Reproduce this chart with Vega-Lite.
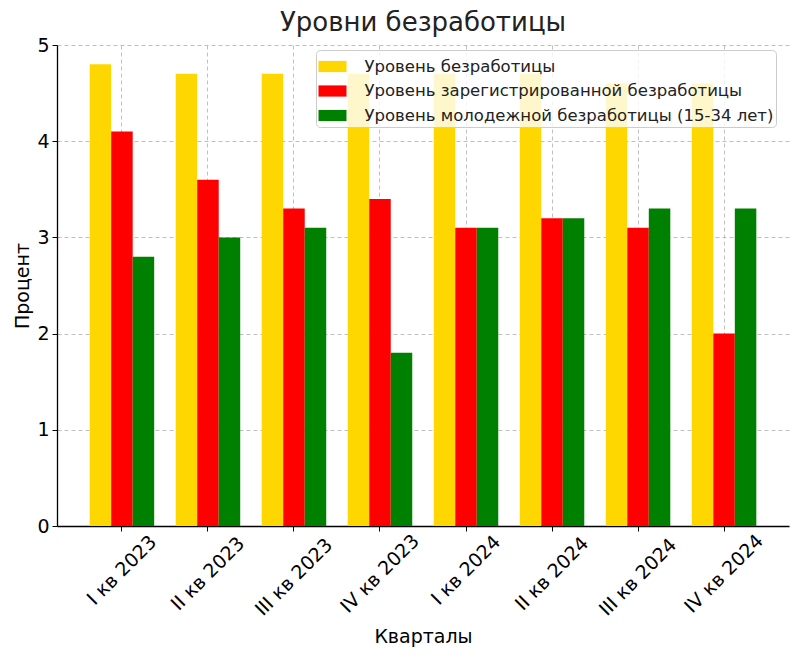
{
  "$schema": "https://vega.github.io/schema/vega-lite/v6.json",
  "autosize": {"type": "none"},
  "width": 732,
  "height": 481,
  "padding": {"left": 57, "top": 45, "right": 11, "bottom": 132},
  "background": "white",
  "config": {
    "font": "DejaVu Sans",
    "view": {"stroke": null},
    "axis": {
      "labelFont": "DejaVu Sans",
      "titleFont": "DejaVu Sans",
      "labelColor": "#000000",
      "titleColor": "#000000",
      "labelFontSize": 19,
      "titleFontSize": 19,
      "titleFontWeight": "normal",
      "domainColor": "#000000",
      "domainWidth": 1.3,
      "tickColor": "#000000",
      "tickSize": 5,
      "tickWidth": 1,
      "gridColor": "#b0b0b0",
      "gridDash": [4, 3],
      "gridWidth": 0.8,
      "zindex": 1
    }
  },
  "title": {
    "text": "Уровни безработицы",
    "fontSize": 26,
    "fontWeight": "normal",
    "font": "DejaVu Sans",
    "color": "#222222",
    "anchor": "middle",
    "offset": 0
  },
  "data": {
    "values": [
      {"q": "I кв 2023", "s": "Уровень безработицы", "v": 4.8},
      {"q": "I кв 2023", "s": "Уровень зарегистрированной безработицы", "v": 4.1},
      {"q": "I кв 2023", "s": "Уровень молодежной безработицы (15-34 лет)", "v": 2.8},
      {"q": "II кв 2023", "s": "Уровень безработицы", "v": 4.7},
      {"q": "II кв 2023", "s": "Уровень зарегистрированной безработицы", "v": 3.6},
      {"q": "II кв 2023", "s": "Уровень молодежной безработицы (15-34 лет)", "v": 3.0},
      {"q": "III кв 2023", "s": "Уровень безработицы", "v": 4.7},
      {"q": "III кв 2023", "s": "Уровень зарегистрированной безработицы", "v": 3.3},
      {"q": "III кв 2023", "s": "Уровень молодежной безработицы (15-34 лет)", "v": 3.1},
      {"q": "IV кв 2023", "s": "Уровень безработицы", "v": 4.7},
      {"q": "IV кв 2023", "s": "Уровень зарегистрированной безработицы", "v": 3.4},
      {"q": "IV кв 2023", "s": "Уровень молодежной безработицы (15-34 лет)", "v": 1.8},
      {"q": "I кв 2024", "s": "Уровень безработицы", "v": 4.7},
      {"q": "I кв 2024", "s": "Уровень зарегистрированной безработицы", "v": 3.1},
      {"q": "I кв 2024", "s": "Уровень молодежной безработицы (15-34 лет)", "v": 3.1},
      {"q": "II кв 2024", "s": "Уровень безработицы", "v": 4.7},
      {"q": "II кв 2024", "s": "Уровень зарегистрированной безработицы", "v": 3.2},
      {"q": "II кв 2024", "s": "Уровень молодежной безработицы (15-34 лет)", "v": 3.2},
      {"q": "III кв 2024", "s": "Уровень безработицы", "v": 4.6},
      {"q": "III кв 2024", "s": "Уровень зарегистрированной безработицы", "v": 3.1},
      {"q": "III кв 2024", "s": "Уровень молодежной безработицы (15-34 лет)", "v": 3.3},
      {"q": "IV кв 2024", "s": "Уровень безработицы", "v": 4.6},
      {"q": "IV кв 2024", "s": "Уровень зарегистрированной безработицы", "v": 2.0},
      {"q": "IV кв 2024", "s": "Уровень молодежной безработицы (15-34 лет)", "v": 3.3}
    ]
  },
  "mark": {"type": "bar"},
  "encoding": {
    "x": {
      "field": "q",
      "type": "nominal",
      "sort": null,
      "scale": {"paddingInner": 0.25, "paddingOuter": 0.38},
      "axis": {
        "title": "Кварталы",
        "titleY": 110,
        "titleBaseline": "middle",
        "labelAngle": -45,
        "labelAlign": "center",
        "labelBaseline": "middle",
        "labelPadding": {"expr": "2 + 0.354*(length(datum.label)*9.7 + 17)"},
        "bandPosition": 0.5,
        "grid": true
      }
    },
    "xOffset": {
      "field": "s",
      "type": "nominal",
      "sort": ["Уровень безработицы", "Уровень зарегистрированной безработицы", "Уровень молодежной безработицы (15-34 лет)"],
      "scale": {"paddingInner": 0, "paddingOuter": 0}
    },
    "y": {
      "field": "v",
      "type": "quantitative",
      "scale": {"domain": [0, 5.0], "nice": false},
      "axis": {
        "title": "Процент",
        "values": [0, 1, 2, 3, 4, 5],
        "labelPadding": 3,
        "titleX": -35,
        "titleBaseline": "middle",
        "grid": true
      }
    },
    "color": {
      "field": "s",
      "type": "nominal",
      "scale": {
        "domain": ["Уровень безработицы", "Уровень зарегистрированной безработицы", "Уровень молодежной безработицы (15-34 лет)"],
        "range": ["#FFD700", "#FF0000", "#008000"]
      },
      "legend": {
        "title": null,
        "orient": "none",
        "legendX": 259,
        "legendY": 5,
        "zindex": 2,
        "direction": "vertical",
        "symbolType": "M-1,-0.4L1,-0.4L1,0.4L-1,0.4Z",
        "symbolSize": 784,
        "symbolStrokeWidth": 0,
        "labelFontSize": 16.5,
        "labelFont": "DejaVu Sans",
        "labelColor": "#222222",
        "labelOffset": 18,
        "rowPadding": 1.5,
        "labelLimit": 600,
        "fillColor": "rgba(255,255,255,0.8)",
        "strokeColor": "#cccccc",
        "cornerRadius": 4,
        "padding": 2.5
      }
    }
  }
}
